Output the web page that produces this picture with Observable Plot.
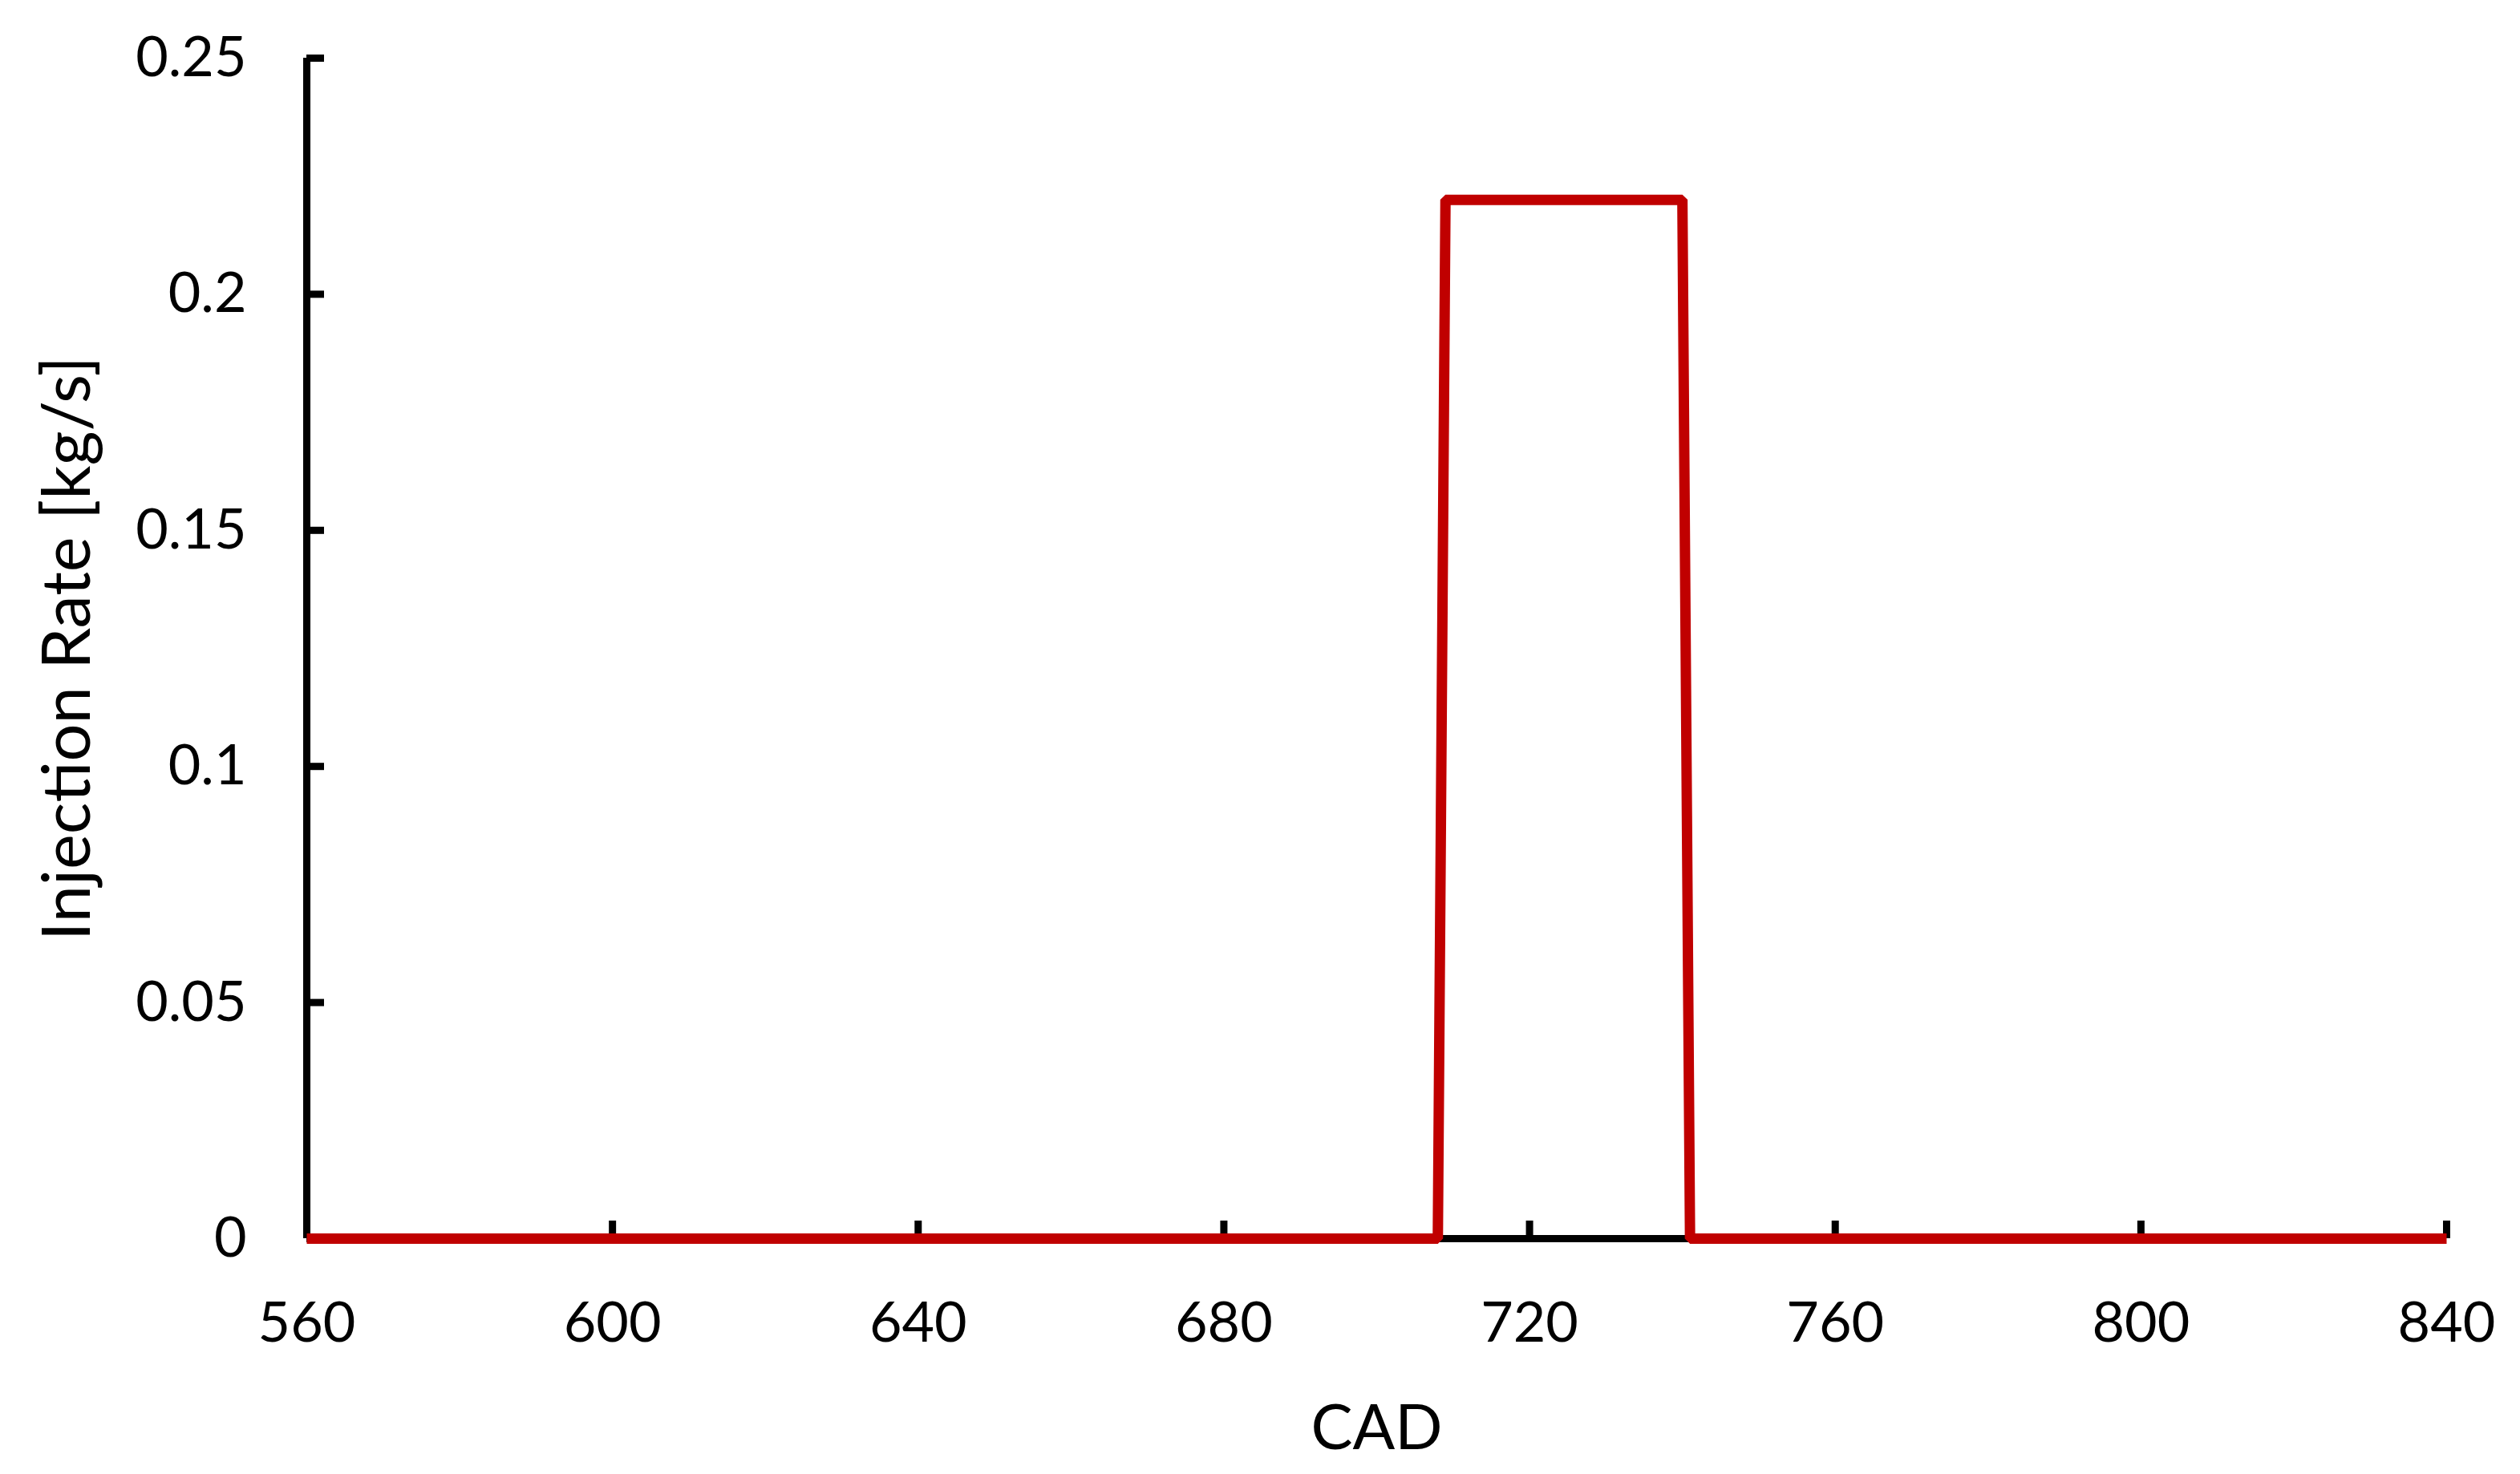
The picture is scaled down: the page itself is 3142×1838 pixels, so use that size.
<!DOCTYPE html>
<html>
<head>
<meta charset="utf-8">
<script src="https://cdn.jsdelivr.net/npm/d3@7"></script>
<script src="https://cdn.jsdelivr.net/npm/@observablehq/plot@0.6"></script>
<style>
  html, body { margin: 0; padding: 0; background: #fff; }
  #chart svg { display: block; }
</style>
</head>
<body>
<div id="chart"></div>
<script>
// Data
const cad = [560, 708, 709, 740, 741, 840];
const injectionRate = [0, 0, 0.22, 0.22, 0, 0];
const xTicks = [560, 600, 640, 680, 720, 760, 800, 840];
const yTicks = [0, 0.05, 0.1, 0.15, 0.2, 0.25];
const xLabel = "CAD";
const yLabel = "Injection Rate [kg/s]";

const data = cad.map((c, i) => ({cad: c, rate: injectionRate[i]}));

const font = "Lato, 'Open Sans', sans-serif";

const chart = Plot.plot({
  width: 3142,
  height: 1838,
  marginLeft: 382,
  marginRight: 92,
  marginTop: 72,
  marginBottom: 294,
  style: {fontFamily: font, background: "#fff", color: "#000"},
  x: {domain: [560, 840]},
  y: {domain: [0, 0.25]},
  marks: [
    Plot.axisX(xTicks, {
      tickSize: -22, tickPadding: 101, strokeWidth: 9, fontSize: 70,
      tickFormat: d => String(d), label: null, stroke: "#000", fill: "#000"
    }),
    Plot.axisY(yTicks, {
      tickSize: -22, tickPadding: 97, strokeWidth: 9, fontSize: 70,
      tickFormat: d => String(d), label: null, stroke: "#000", fill: "#000"
    }),
    Plot.ruleX([560], {stroke: "#000", strokeWidth: 9}),
    Plot.ruleY([0], {stroke: "#000", strokeWidth: 9}),
    Plot.line(data, {
      x: "cad", y: "rate", stroke: "#C00000", strokeWidth: 13,
      strokeLinejoin: "miter", strokeLinecap: "butt", curve: "linear"
    }),
    Plot.text([xLabel], {
      frameAnchor: "bottom", dy: 238, fontSize: 78, lineAnchor: "middle",
      textAnchor: "middle", text: d => d, fill: "#000"
    }),
    Plot.text([yLabel], {
      frameAnchor: "left", dx: -297, rotate: -90, fontSize: 83,
      lineAnchor: "middle", textAnchor: "middle", text: d => d, fill: "#000"
    })
  ]
});

document.getElementById("chart").appendChild(chart);
</script>
</body>
</html>
